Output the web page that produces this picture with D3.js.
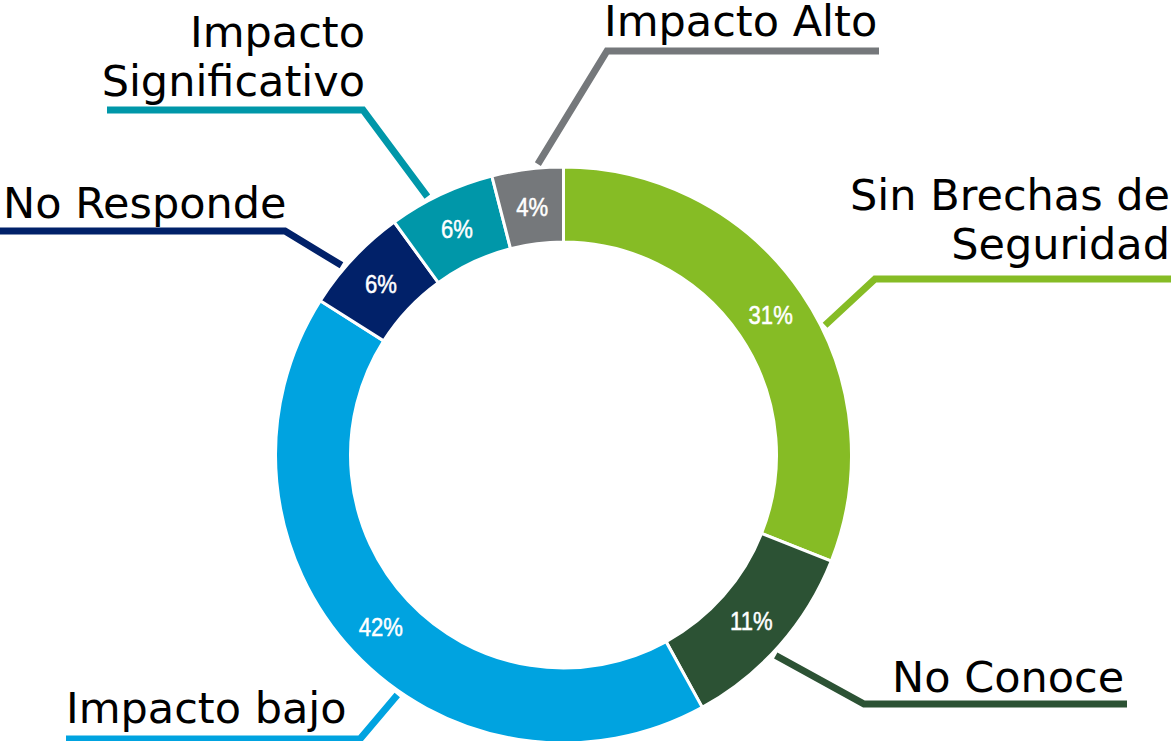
<!DOCTYPE html>
<html><head><meta charset="utf-8">
<script src="https://cdn.jsdelivr.net/npm/d3@7"></script>
<style>
html,body{margin:0;padding:0;background:#fff;overflow:hidden}
svg{display:block}
.cat{font-family:"DejaVu Sans",Verdana,sans-serif;font-size:43px;fill:#000}
.pct{font-family:"Liberation Sans",Arial,sans-serif;font-size:26px;fill:#fff;stroke:#fff;stroke-width:0.5}
</style></head><body>
<svg id="chart" width="1171" height="741"></svg>
<script>
// Survey answers, clockwise from 12 o'clock
const categories = ["Sin Brechas de Seguridad", "No Conoce", "Impacto bajo", "No Responde", "Impacto Significativo", "Impacto Alto"];
const values = [31, 11, 42, 6, 6, 4];
const colors = ["#86BC25", "#2C5234", "#00A3E0", "#012169", "#0097A9", "#75787B"];
const labelLines = [["Sin Brechas de", "Seguridad"], ["No Conoce"], ["Impacto bajo"], ["No Responde"], ["Impacto", "Significativo"], ["Impacto Alto"]];

// Call-out placement: text anchor, first baseline, leader elbow, leader end, spot along the slice
const callouts = [
  {anchor: "end",   x: 1170, y: 210, elbow: [875, 279], end: 1171, at: 0.57},
  {anchor: "start", x: 892,  y: 692, elbow: [864, 704], end: 1127, at: 0.55},
  {anchor: "start", x: 66,   y: 723, elbow: [360, 739], end: 66,   at: 0.42},
  {anchor: "start", x: 3,    y: 218, elbow: [285, 231], end: 0,    at: 0.375},
  {anchor: "end",   x: 365,  y: 47,  elbow: [363, 110], end: 107,  at: 0.38},
  {anchor: "start", x: 604,  y: 36,  elbow: [607, 51],  end: 879,  at: 0.65}
];

const cx = 563.5, cy = 455, rOuter = 288, rInner = 213, rLeader = 292, lineHeight = 49;

const data = categories.map((c, i) => ({name: c, value: values[i], color: colors[i], lines: labelLines[i], co: callouts[i]}));

const svg = d3.select("#chart");
const g = svg.append("g").attr("transform", `translate(${cx},${cy})`);

const pie = d3.pie().sort(null).value(d => d.value).startAngle(0).endAngle(2 * Math.PI);
const arc = d3.arc().innerRadius(rInner).outerRadius(rOuter);
const arcs = pie(data);

g.selectAll("path.slice").data(arcs).join("path")
  .attr("class", "slice")
  .attr("d", arc)
  .attr("fill", d => d.data.color)
  .attr("stroke", "#fff")
  .attr("stroke-width", 3);

// Percent labels in a narrow face, centred in each ring segment
const fmt = d3.format(".0%");
const total = d3.sum(values);
g.selectAll("text.pct").data(arcs).join("text")
  .attr("class", "pct")
  .attr("transform", d => `translate(${arc.centroid(d)}) scale(0.85,1)`)
  .attr("text-anchor", "middle")
  .attr("dy", "0.36em")
  .text(d => fmt(d.data.value / total));

// Leader lines from the ring to the underlined category names
const leaders = svg.append("g");
arcs.forEach(d => {
  const co = d.data.co;
  const a = d.startAngle + co.at * (d.endAngle - d.startAngle);
  const p0 = [cx + rLeader * Math.sin(a), cy - rLeader * Math.cos(a)];
  leaders.append("polyline")
    .attr("points", [p0, co.elbow, [co.end, co.elbow[1]]].map(p => p.join(",")).join(" "))
    .attr("fill", "none")
    .attr("stroke", d.data.color)
    .attr("stroke-width", 7)
    .attr("stroke-linejoin", "miter");
});

const labels = svg.append("g");
data.forEach(d => {
  const t = labels.append("text").attr("class", "cat")
    .attr("text-anchor", d.co.anchor);
  d.lines.forEach((ln, i) => {
    t.append("tspan").attr("x", d.co.x).attr("y", d.co.y + i * lineHeight).text(ln);
  });
});
</script>
</body></html>
